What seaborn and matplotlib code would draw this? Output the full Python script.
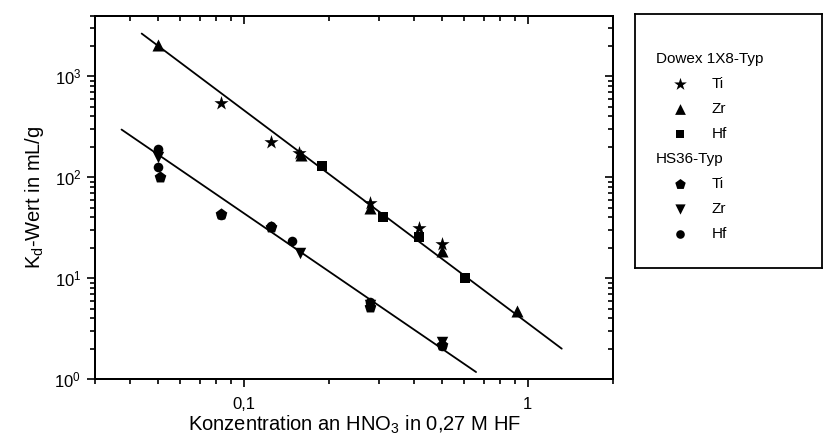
import matplotlib
matplotlib.use("Agg")
import matplotlib.pyplot as plt
import numpy as np
import pandas as pd
import seaborn as sns
from matplotlib.ticker import LogLocator, NullFormatter

# ---------------- data ----------------
dowex_ti_x = [0.083, 0.125, 0.157, 0.28, 0.416, 0.50]
dowex_ti_y = [545, 222, 176, 56, 31.5, 22]
dowex_zr_x = [0.05, 0.159, 0.28, 0.50, 0.918]
dowex_zr_y = [2060, 168, 50, 18.7, 4.7]
dowex_hf_x = [0.189, 0.309, 0.416, 0.601]
dowex_hf_y = [128, 40.5, 25.7, 10.1]

hs36_ti_x = [0.051, 0.083, 0.125, 0.28, 0.50]
hs36_ti_y = [101, 43, 32, 5.2, 2.2]
hs36_zr_x = [0.05, 0.158, 0.28, 0.50]
hs36_zr_y = [160, 18, 5.5, 2.35]
hs36_hf_x = [0.05, 0.05, 0.083, 0.125, 0.148, 0.28, 0.50]
hs36_hf_y = [190, 127, 42, 33, 23.5, 5.8, 2.15]

dowex_fit_x = [0.0438, 1.32]
dowex_fit_y = [2650, 2.01]
hs36_fit_x = [0.0372, 0.659]
hs36_fit_y = [297, 1.18]

x_ticks = [0.1, 1]
x_tick_labels = ["0,1", "1"]
y_ticks = [1, 10, 100, 1000]
y_tick_labels = [r"$\mathregular{10^{0}}$", r"$\mathregular{10^{1}}$",
                 r"$\mathregular{10^{2}}$", r"$\mathregular{10^{3}}$"]

groups = ["Dowex 1X8-Typ", "HS36-Typ"]
elements = ["Ti", "Zr", "Hf"]
x_label = "Konzentration an HNO$_3$ in 0,27 M HF"
y_label = "K$_d$-Wert in mL/g"

# ---------------- style ----------------
sns.set_theme(style="white")
plt.rcParams["font.family"] = ["Liberation Sans", "DejaVu Sans"]
plt.rcParams["mathtext.fontset"] = "custom"
plt.rcParams["mathtext.rm"] = "Liberation Sans"
plt.rcParams["mathtext.it"] = "Liberation Sans"
plt.rcParams["mathtext.default"] = "regular"

series = [
    (groups[0], "Ti", dowex_ti_x, dowex_ti_y, "*", 115),
    (groups[0], "Zr", dowex_zr_x, dowex_zr_y, "^", 75),
    (groups[0], "Hf", dowex_hf_x, dowex_hf_y, "s", 48),
    (groups[1], "Ti", hs36_ti_x, hs36_ti_y, "p", 78),
    (groups[1], "Zr", hs36_zr_x, hs36_zr_y, "v", 68),
    (groups[1], "Hf", hs36_hf_x, hs36_hf_y, "o", 48),
]

rows = []
for g, el, xs, ys, m, s in series:
    for xv, yv in zip(xs, ys):
        rows.append({"conc": xv, "kd": yv, "series": f"{g} {el}"})
df = pd.DataFrame(rows)

W, H = 823, 441
fig = plt.figure(figsize=(W / 100, H / 100), dpi=100)
L, R, T, B = 95, 613, 15.5, 379.3
ax = fig.add_axes([L / W, 1 - B / H, (R - L) / W, (B - T) / H])

# fit lines
sns.lineplot(x=dowex_fit_x, y=dowex_fit_y, color="black", lw=1.3, ax=ax)
sns.lineplot(x=hs36_fit_x, y=hs36_fit_y, color="black", lw=1.3, ax=ax)

# points
for g, el, xs, ys, m, s in series:
    sub = df[df["series"] == f"{g} {el}"]
    sns.scatterplot(data=sub, x="conc", y="kd", marker=m, s=s, color="black",
                    edgecolor="black", linewidth=0, legend=False, ax=ax, zorder=3)

ax.set_xscale("log")
ax.set_yscale("log")
ax.set_xlim(0.03, 2)
ax.set_ylim(1, 4000)

ax.set_xticks(x_ticks, labels=x_tick_labels)
ax.set_yticks(y_ticks, labels=y_tick_labels)
ax.xaxis.set_minor_locator(LogLocator(base=10, subs=np.arange(2, 10)))
ax.yaxis.set_minor_locator(LogLocator(base=10, subs=np.arange(2, 10)))
ax.xaxis.set_minor_formatter(NullFormatter())
ax.yaxis.set_minor_formatter(NullFormatter())
ax.tick_params(which="both", direction="out", color="black", width=1.2,
               labelsize=12, labelcolor="black", top=False, right=False,
               bottom=True, left=True)
ax.tick_params(which="major", length=6)
ax.tick_params(which="minor", length=3.5)
ax.tick_params(axis="x", pad=7)
ax.tick_params(axis="y", pad=4)

ax.set_xlabel(x_label, fontsize=14.5, color="black", labelpad=1)
ax.set_ylabel(y_label, fontsize=14.5, color="black", labelpad=6)
for sp in ax.spines.values():
    sp.set_color("black")
    sp.set_linewidth(1.3)

# mirrored inward ticks on top and right
axt = ax.twiny()
axt.set_xscale("log")
axt.set_xlim(ax.get_xlim())
axt.set_xticks(x_ticks)
axt.xaxis.set_minor_locator(LogLocator(base=10, subs=np.arange(2, 10)))
axt.tick_params(axis="x", which="both", direction="in", top=True, bottom=False,
                labeltop=False, color="black", width=1.2)
axt.tick_params(axis="x", which="major", length=6)
axt.tick_params(axis="x", which="minor", length=3.5)

axr = ax.twinx()
axr.set_yscale("log")
axr.set_ylim(ax.get_ylim())
axr.set_yticks(y_ticks)
axr.yaxis.set_minor_locator(LogLocator(base=10, subs=np.arange(2, 10)))
axr.tick_params(axis="y", which="both", direction="in", right=True, left=False,
                labelright=False, color="black", width=1.2)
axr.tick_params(axis="y", which="major", length=6)
axr.tick_params(axis="y", which="minor", length=3.5)
for a in (axt, axr):
    for sp in a.spines.values():
        sp.set_color("black")
        sp.set_linewidth(1.3)

# ---------------- legend box ----------------
LX0, LX1, LY0, LY1 = 635, 822, 14, 268
lax = fig.add_axes([LX0 / W, 1 - LY1 / H, (LX1 - LX0) / W, (LY1 - LY0) / H])
lax.set_xlim(0, LX1 - LX0)
lax.set_ylim(LY1 - LY0, 0)
lax.set_xticks([])
lax.set_yticks([])
lax.set_facecolor("white")
for sp in lax.spines.values():
    sp.set_color("black")
    sp.set_linewidth(1.3)

row = 45
for gi, g in enumerate(groups):
    lax.text(21, row, g, fontsize=11, va="center", ha="left", color="black")
    row += 25
    for el in elements:
        _, _, _, _, m, s = [t for t in series if t[0] == g and t[1] == el][0]
        lax.scatter([45], [row], marker=m, s=s * 0.8, color="black", linewidths=0)
        lax.text(77, row, el, fontsize=11, va="center", ha="left", color="black")
        row += 25

fig.savefig("out.png", dpi=100)
